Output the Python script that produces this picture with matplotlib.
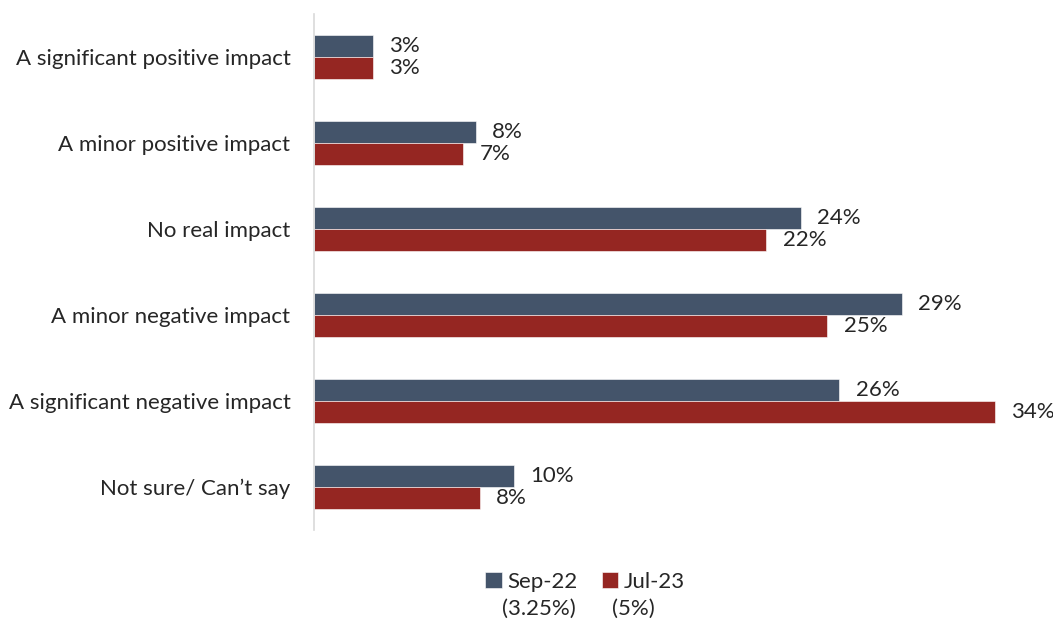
import numpy as np
import matplotlib
matplotlib.use("Agg")
import matplotlib.pyplot as plt

# =========================
# Data
# =========================
categories = [
    "A significant positive impact",
    "A minor positive impact",
    "No real impact",
    "A minor negative impact",
    "A significant negative impact",
    "Not sure/ Can\u2019t say",
]
sep22 = [2.9, 8.0, 24.1, 29.1, 26.0, 9.9]
jul23 = [2.9, 7.4, 22.4, 25.4, 33.7, 8.2]
series_names = ["Sep-22", "Jul-23"]
series_notes = ["(3.25%)", "(5%)"]

colors = ["#44546A", "#952622"]
fs = 16

plt.rcParams["font.family"] = ["Lato", "DejaVu Sans"]

fig = plt.figure(figsize=(10.53, 6.22), dpi=100)
ax = fig.add_axes([314 / 1053, 1 - 530 / 622, 707 / 1053, 516 / 622])

y = np.arange(len(categories))
h = 0.256

bars_a = ax.barh(y - h / 2, sep22, height=h, color=colors[0], edgecolor="white", linewidth=0.4, label=series_names[0])
bars_b = ax.barh(y + h / 2, jul23, height=h, color=colors[1], edgecolor="white", linewidth=0.4, label=series_names[1])

for bars, vals in [(bars_a, sep22), (bars_b, jul23)]:
    for b, v in zip(bars, vals):
        ax.annotate(f"{v:.0f}%", (b.get_width(), b.get_y() + b.get_height() / 2),
                    xytext=(12, 0), textcoords="offset points",
                    ha="left", va="center", fontsize=fs, color="#262626",
                    annotation_clip=False)

ax.set_xlim(0, 35)
ax.set_ylim(len(categories) - 0.5, -0.5)
ax.set_yticks(y)
ax.set_yticklabels(categories, fontsize=fs, color="#262626")
ax.tick_params(axis="y", length=0, pad=17)
ax.set_xticks([])
for s in ["top", "right", "bottom"]:
    ax.spines[s].set_visible(False)
ax.spines["left"].set_color("#D9D9D9")
ax.spines["left"].set_linewidth(1.2)

leg = ax.legend(loc="center", bbox_to_anchor=(585 / 1053, 1 - 582 / 622),
                bbox_transform=fig.transFigure, ncol=2, frameon=False,
                fontsize=fs, handlelength=0.75, handleheight=0.75,
                handletextpad=0.25, columnspacing=1.1)
for t in leg.get_texts():
    t.set_color("#262626")

fig.text(502 / 1053, 1 - 609 / 622, series_notes[0], fontsize=fs, color="#262626", ha="left", va="center")
fig.text(612 / 1053, 1 - 609 / 622, series_notes[1], fontsize=fs, color="#262626", ha="left", va="center")

fig.savefig("out.png", dpi=100)
